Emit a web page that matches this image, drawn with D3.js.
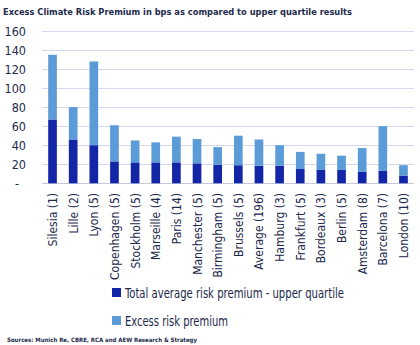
<!DOCTYPE html>
<html>
<head>
<meta charset="utf-8">
<script src="https://cdn.jsdelivr.net/npm/d3@7/dist/d3.min.js"></script>
<style>
  html, body { margin: 0; padding: 0; background: #fff; }
  svg { display: block; font-family: "Liberation Sans Narrow", "DejaVu Sans Condensed", "Roboto", sans-serif; }
</style>
</head>
<body>
<div id="chart"></div>
<script>
'use strict';

// cities (number of assets)
var cities = ['Silesia (1)', 'Lille (2)', 'Lyon (5)', 'Copenhagen (5)', 'Stockholm (5)', 'Marseille (4)',
  'Paris (14)', 'Manchester (5)', 'Birmingham (5)', 'Brussels (5)', 'Average (196)', 'Hamburg (3)',
  'Frankfurt (5)', 'Bordeaux (3)', 'Berlin (5)', 'Amsterdam (8)', 'Barcelona (7)', 'London (10)'];

// bps
var upperQuartile = [67, 46, 40, 23, 22, 22, 22, 21, 19.5, 19, 18.5, 18.5, 15, 14, 14, 12, 13, 8];
var excessPremium = [68, 34, 88, 38, 23, 21, 27, 25.5, 18.5, 31, 27.5, 21.5, 18, 17, 15, 25, 47, 11];

var yTicks = [0, 20, 40, 60, 80, 100, 120, 140, 160];
var seriesNames = ['Total average risk premium - upper quartile', 'Excess risk premium'];
var colors = ['#1426a8', '#5b9bd7'];

var width = 420, height = 345;
var textColor = '#1d2a4c';

var svg = d3.select('#chart').append('svg')
  .attr('width', width)
  .attr('height', height);

var x = d3.scaleBand()
  .domain(cities)
  .range([42, 414])
  .paddingInner(0.58)
  .paddingOuter(0.3);

var y = d3.scaleLinear()
  .domain([0, 160])
  .range([183.3, 31]);

// shrink a text's font until its natural width fits, then stretch to the exact width
function fitText(sel, maxWidth, maxSize) {
  sel.attr('font-size', maxSize);
  var w = sel.node().getComputedTextLength();
  if (w > maxWidth) sel.attr('font-size', maxSize * maxWidth / w);
  sel.attr('textLength', maxWidth).attr('lengthAdjust', 'spacingAndGlyphs');
}

// title
var title = svg.append('text')
  .attr('x', 3)
  .attr('y', 14.5)
  .attr('fill', textColor)
  .attr('font-weight', 'bold')
  .text('Excess Climate Risk Premium in bps as compared to upper quartile results');
fitText(title, 349, 12);

// gridlines
svg.append('g')
  .selectAll('line')
  .data(yTicks)
  .enter().append('line')
  .attr('x1', 42)
  .attr('x2', 414)
  .attr('y1', function (d) { return Math.round(y(d)) + 0.5; })
  .attr('y2', function (d) { return Math.round(y(d)) + 0.5; })
  .attr('stroke', function (d) { return d === 0 ? '#c4c9dc' : '#d3d7f2'; })
  .attr('stroke-width', 1);

// y labels
svg.append('g')
  .selectAll('text')
  .data(yTicks)
  .enter().append('text')
  .attr('x', function (d) { return d === 0 ? 19 : 26; })
  .attr('y', function (d) { return y(d) + 4.5; })
  .attr('text-anchor', 'end')
  .attr('fill', textColor)
  .attr('font-size', 12.5)
  .text(function (d) { return d === 0 ? '-' : d; });

// stacked bars
var stacked = cities.map(function (c, i) {
  return { city: c, base: upperQuartile[i], excess: excessPremium[i] };
});

var bars = svg.append('g');
bars.selectAll('rect.base')
  .data(stacked)
  .enter().append('rect')
  .attr('class', 'base')
  .attr('x', function (d) { return x(d.city); })
  .attr('width', x.bandwidth())
  .attr('y', function (d) { return y(d.base); })
  .attr('height', function (d) { return y(0) - y(d.base); })
  .attr('fill', colors[0]);

bars.selectAll('rect.excess')
  .data(stacked)
  .enter().append('rect')
  .attr('class', 'excess')
  .attr('x', function (d) { return x(d.city); })
  .attr('width', x.bandwidth())
  .attr('y', function (d) { return y(d.base + d.excess); })
  .attr('height', function (d) { return y(d.base) - y(d.base + d.excess); })
  .attr('fill', colors[1]);

// category labels, rotated
svg.append('g')
  .selectAll('text')
  .data(cities)
  .enter().append('text')
  .attr('transform', function (d) {
    return 'translate(' + (x(d) + x.bandwidth() / 2 + 4.5) + ',193) rotate(-90)';
  })
  .attr('text-anchor', 'end')
  .attr('fill', textColor)
  .attr('font-size', 12)
  .text(function (d) { return d; });

// legend
var legend = svg.append('g')
  .selectAll('g')
  .data(seriesNames)
  .enter().append('g')
  .attr('transform', function (d, i) { return 'translate(112,' + (288 + i * 28) + ')'; });

legend.append('rect')
  .attr('width', 9)
  .attr('height', 9)
  .attr('fill', function (d, i) { return colors[i]; });

legend.append('text')
  .attr('x', 13)
  .attr('y', 9.5)
  .attr('fill', textColor)
  .attr('font-size', 14)
  .attr('textLength', function (d, i) { return i === 0 ? 219 : 103; })
  .attr('lengthAdjust', 'spacingAndGlyphs')
  .text(function (d) { return d; });

// source note
var source = svg.append('text')
  .attr('x', 7)
  .attr('y', 342)
  .attr('fill', textColor)
  .attr('font-weight', 'bold')
  .text('Sources: Munich Re, CBRE, RCA and AEW Research & Strategy');
fitText(source, 190, 8.5);
</script>
</body>
</html>
